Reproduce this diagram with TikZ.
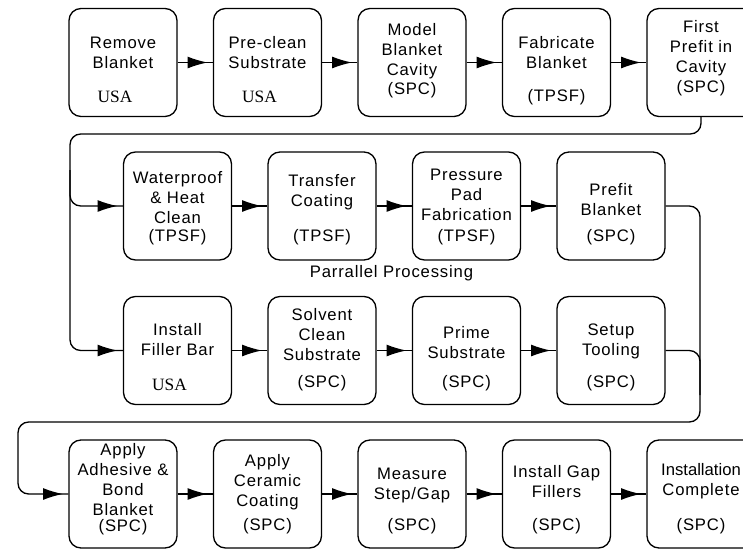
\documentclass[tikz,border=0pt]{standalone}
\usepackage{fontspec}
\setmainfont{Liberation Sans}[LetterSpace=5]
\newfontfamily\usafont{Liberation Serif}
\usetikzlibrary{arrows.meta,decorations.markings,calc}

\tikzset{
  blk/.style={draw, line width=1pt, rounded corners=9pt,
    minimum width=81pt, minimum height=81pt, inner sep=0pt},
  main/.style={align=center, inner sep=0pt, font=\fontsize{12.5}{15}\selectfont},
  tagsans/.style={inner sep=0pt, font=\fontsize{12.5}{15}\selectfont},
  tagusa/.style={inner sep=0pt, font=\usafont\fontsize{13}{15}\selectfont},
  link/.style={draw, line width=1pt, rounded corners=8pt},
  tipmark/.style={postaction={decorate}, decoration={markings,
    mark=at position -4pt with {\arrow{Latex[length=15pt,width=9pt]}}}},
}

% #1 name, #2 centre, #3 text, #4 text centre below top, #5 tag, #6 tag below top
\newcommand{\procbox}[6]{%
  \node[blk] (#1) at (#2) {};
  \node[main] (#1-txt) at ($(#1.north)+(0,#4)$) {#3};
  \node[tagsans] (#1-tag) at ($(#1.north)+(0,#6)$) {#5};
}
% #1 name, #2 centre, #3 text, #4 text centre below top
\newcommand{\usabox}[4]{%
  \node[blk] (#1) at (#2) {};
  \node[main] (#1-txt) at ($(#1.north)+(0,#4)$) {#3};
  \node[tagusa] (#1-tag) at ($(#1.north)+(-8,89)$) {USA};
}

\begin{document}
\begin{tikzpicture}[x=0.75pt, y=-0.75pt]
\useasboundingbox (0,0) rectangle (743,550);

% first row
\usabox{b1}{123,62.5}{Remove\\Blanket}{45}
\usabox{b2}{267.5,62.5}{Pre-clean\\Substrate}{45}
\procbox{b3}{412,62.5}{Model\\Blanket\\Cavity}{43}{(SPC)}{82}
\procbox{b4}{556.5,62.5}{Fabricate\\Blanket}{45}{(TPSF)}{89}
\procbox{b5}{701,62.5}{First\\Prefit in\\Cavity}{40}{(SPC)}{80}

% second row
\procbox{w1}{177.5,206}{Waterproof\\\& Heat\\Clean}{46}{(TPSF)}{86}
\procbox{w2}{322,206}{Transfer\\Coating}{41}{(TPSF)}{86}
\procbox{w3}{466.5,206}{Pressure\\Pad\\Fabrication}{44}{(TPSF)}{86}
\procbox{w4}{611,206}{Prefit\\Blanket}{48}{(SPC)}{86}

\node[main] (par) at (391.5,273) {Parrallel Processing};

% third row
\usabox{s1}{177.5,350.5}{Install\\Filler Bar}{44}
\procbox{s2}{322,350.5}{Solvent\\Clean\\Substrate}{39}{(SPC)}{87}
\procbox{s3}{466.5,350.5}{Prime\\Substrate}{47}{(SPC)}{87}
\procbox{s4}{611,350.5}{Setup\\Tooling}{46}{(SPC)}{87}

% fourth row
\procbox{a1}{123,494}{Apply\\Adhesive \&\\Bond\\Blanket}{40}{(SPC)}{88}
\procbox{a2}{267.5,494}{Apply\\Ceramic\\Coating}{43}{(SPC)}{87}
\procbox{a3}{412,494}{Measure\\Step/Gap}{46}{(SPC)}{87}
\procbox{a4}{556.5,494}{Install Gap\\Fillers}{42}{(SPC)}{87}
\procbox{a5}{701,494}{\addfontfeature{LetterSpace=0}Installation\\Complete}{42}{(SPC)}{87}

% routing points
\coordinate (j1) at (70,134);
\coordinate (j1b) at (70,170);
\coordinate (j2) at (700,422);
\coordinate (j2b) at (700,395);
\coordinate (j3) at (18,422);

% straight steps
\foreach \u/\v in {b1/b2, b2/b3, b3/b4, b4/b5, w1/w2, w2/w3, w3/w4,
                   s1/s2, s2/s3, s3/s4, a1/a2, a2/a3, a3/a4, a4/a5}
  \draw[link, tipmark] (\u.east) -- (\v.west);

% return lines
\draw[link, tipmark] (b5.south) |- (j1) |- (w1.west);
\draw[link, tipmark] (j1b) |- (s1.west);
\draw[link, tipmark] (w4.east) -| (j2) -- (j3) |- (a1.west);
\draw[link] (s4.east) -| (j2b);
\end{tikzpicture}
\end{document}
